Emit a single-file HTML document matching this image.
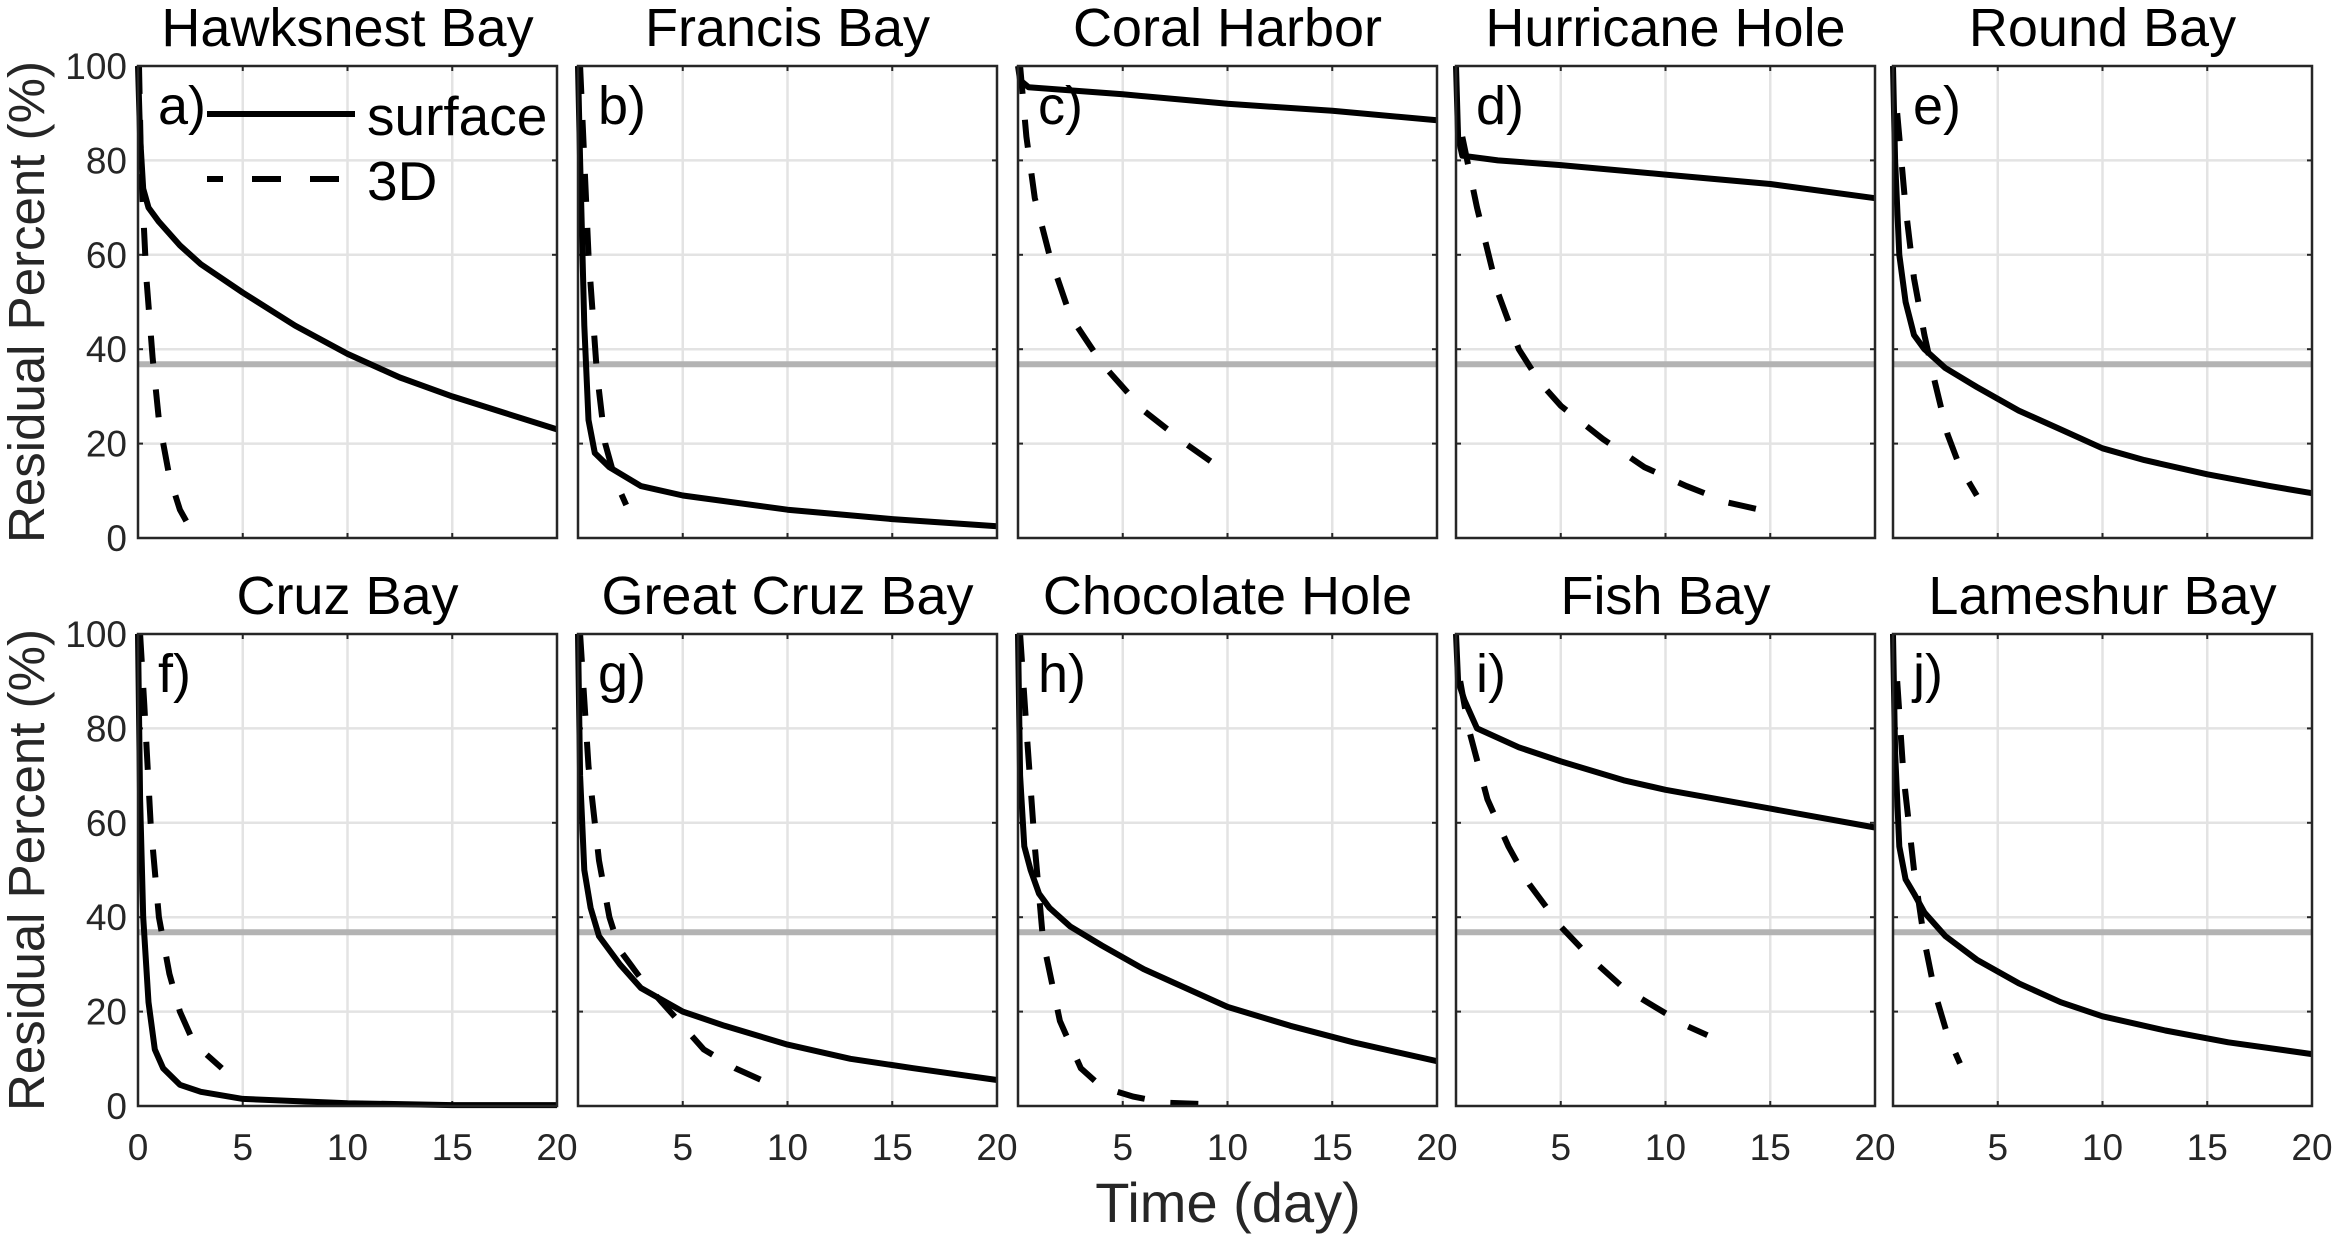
<!DOCTYPE html>
<html><head><meta charset="utf-8"><style>
html,body{margin:0;padding:0;background:#fff;}
svg{display:block;font-family:"Liberation Sans",Arial,sans-serif;}
</style></head><body>
<svg id="s" width="2335" height="1235" viewBox="0 0 2335 1235" xmlns="http://www.w3.org/2000/svg"></svg>
<script>
const S=document.getElementById('s');
const lefts=[138,578,1018,1456,1893], W=419, H=472, tops=[66,634];
const titles=[["Hawksnest Bay","Francis Bay","Coral Harbor","Hurricane Hole","Round Bay"],["Cruz Bay","Great Cruz Bay","Chocolate Hole","Fish Bay","Lameshur Bay"]];
const letters=[["a)","b)","c)","d)","e)"],["f)","g)","h)","i)","j)"]];
const D=[
[[[0,100],[0.1,85],[0.25,74],[0.5,70],[1,67],[2,62],[3,58],[5,52],[7.5,45],[10,39],[12.5,34],[15,30],[17.5,26.5],[20,23]],
 [[0.05,100],[0.15,78],[0.4,55],[0.7,38],[1,25],[1.5,13],[2,6],[2.5,2],[3,0]]],
[[[0,100],[0.1,80],[0.3,45],[0.5,25],[0.8,18],[1.5,15],[3,11],[5,9],[10,6],[15,4],[20,2.5]],
 [[0.1,100],[0.5,60],[0.9,35],[1.3,20],[1.8,12],[2.3,7]]],
[[[0,100],[0.1,97],[0.5,95.5],[5,94],[10,92],[15,90.5],[20,88.5]],
 [[0.1,100],[0.4,85],[0.8,72],[1.5,60],[2.5,47],[4,37],[6,27],[8,20],[9.6,15]]],
[[[0,100],[0.1,85],[0.3,81],[2,80],[5,79],[10,77],[15,75],[20,72]],
 [[0.3,85],[1,70],[2,52],[3,40],[4,33],[5,28],[7,21],[9,15],[11,11],[13,7.5],[15,5.5]]],
[[[0,100],[0.1,80],[0.3,60],[0.6,50],[1,43],[1.5,40],[2.5,36],[4,32],[6,27],[8,23],[10,19],[12,16.5],[15,13.5],[18,11],[20,9.5]],
 [[0.2,90],[0.6,70],[1,55],[1.5,43],[2,33],[2.6,22],[3.2,15],[4,9]]],
[[[0,100],[0.1,65],[0.25,40],[0.5,22],[0.8,12],[1.2,8],[2,4.5],[3,3],[5,1.5],[10,0.6],[15,0.2],[20,0.2]],
 [[0.1,100],[0.3,85],[0.6,60],[1,40],[1.5,28],[2,20],[2.5,15],[3,12],[4,8]]],
[[[0,100],[0.1,70],[0.3,50],[0.6,42],[1,36],[2,30],[3,25],[5,20],[7,17],[10,13],[13,10],[16,8],[20,5.5]],
 [[0.1,100],[0.5,72],[1,52],[1.5,40],[2,33],[3,27],[4,22],[5,17],[6,12],[7.5,8],[9.5,4]]],
[[[0,100],[0.1,70],[0.3,55],[0.6,50],[1,45],[1.5,42],[2.5,38],[4,34],[6,29],[8,25],[10,21],[13,17],[16,13.5],[20,9.5]],
 [[0.1,100],[0.4,80],[0.8,55],[1.2,35],[2,18],[3,8],[4,4],[5.5,2],[7,0.7],[9.5,0.3]]],
[[[0,100],[0.1,90],[0.4,86],[1,80],[3,76],[5,73],[8,69],[10,67],[15,63],[20,59]],
 [[0.2,90],[0.6,80],[1.5,65],[2.5,55],[3.5,47],[5,38],[6.5,31],[8,25],[9.5,21],[11,17],[12,15]]],
[[[0,100],[0.1,75],[0.3,55],[0.6,48],[1,45],[1.5,41],[2.5,36],[4,31],[6,26],[8,22],[10,19],[13,16],[16,13.5],[20,11]],
 [[0.2,90],[0.5,70],[1,50],[1.5,35],[2,24],[2.6,15],[3.2,9]]]
];
let h='';
for(let r=0;r<2;r++)for(let c=0;c<5;c++){
 const L=lefts[c],T=tops[r];
 const X=t=>L+t/20*W, Y=p=>T+(100-p)/100*H;
 for(let k=1;k<4;k++){h+=`<line x1="${X(k*5)}" y1="${T}" x2="${X(k*5)}" y2="${T+H}" stroke="#e3e3e3" stroke-width="2.5"/>`;}
 for(let k=1;k<5;k++){h+=`<line x1="${L}" y1="${Y(k*20)}" x2="${L+W}" y2="${Y(k*20)}" stroke="#e3e3e3" stroke-width="2.5"/>`;}
 for(let k=1;k<4;k++){h+=`<line x1="${X(k*5)}" y1="${T}" x2="${X(k*5)}" y2="${T+5}" stroke="#262626" stroke-width="2"/><line x1="${X(k*5)}" y1="${T+H}" x2="${X(k*5)}" y2="${T+H-5}" stroke="#262626" stroke-width="2"/>`;}
 for(let k=1;k<5;k++){h+=`<line x1="${L}" y1="${Y(k*20)}" x2="${L+5}" y2="${Y(k*20)}" stroke="#262626" stroke-width="2"/><line x1="${L+W}" y1="${Y(k*20)}" x2="${L+W-5}" y2="${Y(k*20)}" stroke="#262626" stroke-width="2"/>`;}
 h+=`<line x1="${L}" y1="${Y(36.8)}" x2="${L+W}" y2="${Y(36.8)}" stroke="#b3b3b3" stroke-width="6"/>`;
 const d=D[r*5+c];
 const pts=a=>a.map(p=>X(p[0]).toFixed(1)+','+Y(p[1]).toFixed(1)).join(' ');
 h+=`<polyline points="${pts(d[1])}" fill="none" stroke="#000" stroke-width="6" stroke-dasharray="28 26"/>`;
 h+=`<polyline points="${pts(d[0])}" fill="none" stroke="#000" stroke-width="6" stroke-linejoin="round"/>`;
 h+=`<rect x="${L}" y="${T}" width="${W}" height="${H}" fill="none" stroke="#262626" stroke-width="2.5"/>`;
 h+=`<text x="${L+W/2}" y="${T-20}" font-size="54" text-anchor="middle" fill="#000">${titles[r][c]}</text>`;
 h+=`<text x="${L+20}" y="${T+58}" font-size="54" fill="#000">${letters[r][c]}</text>`;
 if(c==0){for(let k=0;k<=5;k++){h+=`<text x="127" y="${Y(k*20)+13}" font-size="37" text-anchor="end" fill="#262626">${k*20}</text>`;}}
 if(r==1){for(let k=(c==0?0:1);k<=4;k++){h+=`<text x="${X(k*5)}" y="${T+H+54}" font-size="37" text-anchor="middle" fill="#262626">${k*5}</text>`;}}
}
for(let r=0;r<2;r++){const cy=tops[r]+H/2;h+=`<text transform="translate(44,${cy}) rotate(-90)" font-size="51" text-anchor="middle" fill="#262626">Residual Percent (%)</text>`;}
h+=`<text x="1228" y="1222" font-size="56" text-anchor="middle" fill="#262626">Time (day)</text>`;
h+=`<line x1="207" y1="114" x2="355" y2="114" stroke="#000" stroke-width="6"/>`;
h+=`<line x1="207" y1="179" x2="355" y2="179" stroke="#000" stroke-width="6" stroke-dasharray="16 29 29 29 29 29"/>`;
h+=`<text x="367" y="135" font-size="55" fill="#000">surface</text>`;
h+=`<text x="367" y="200" font-size="55" fill="#000">3D</text>`;
S.innerHTML=h;
</script>
</body></html>
